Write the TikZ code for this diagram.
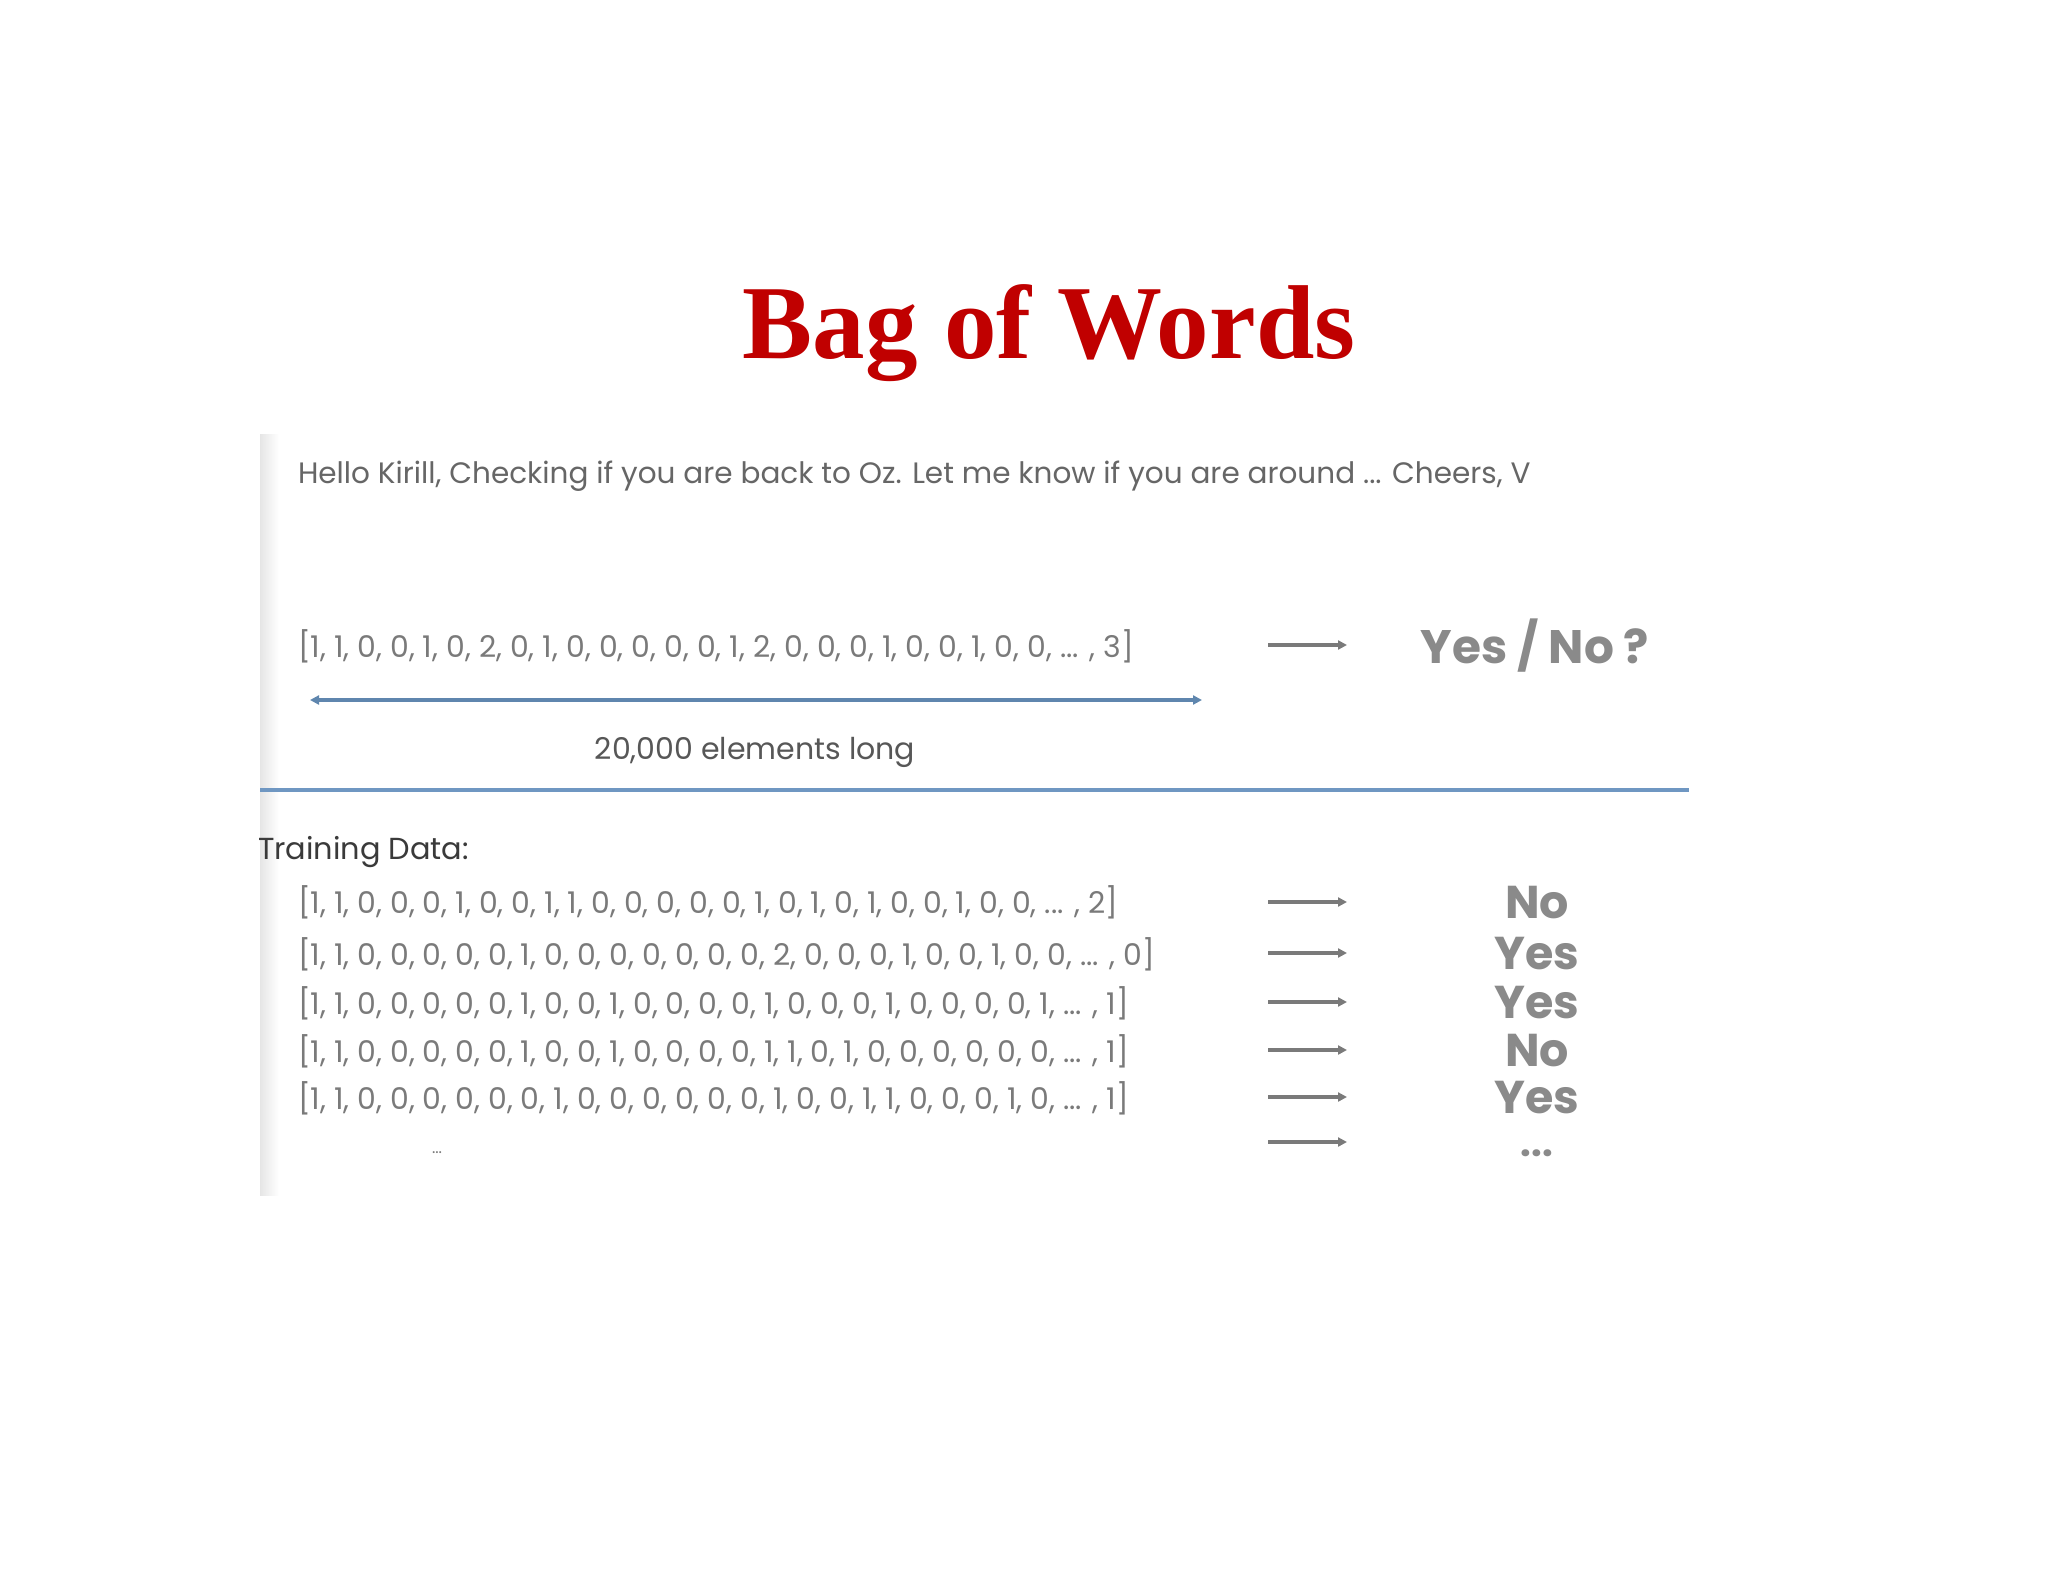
\documentclass[tikz,border=0pt]{standalone}
\usepackage{fontspec}
\setmainfont{Liberation Serif}
\newfontfamily\pop{Poppins}
\usetikzlibrary{arrows.meta}
\definecolor{titlered}{HTML}{C00000}
\definecolor{txtgray}{HTML}{666666}
\definecolor{vecgray}{HTML}{7A7A7A}
\definecolor{lblgray}{HTML}{8A8A8A}
\definecolor{dark}{HTML}{3A3A3A}
\definecolor{lineblue}{HTML}{6F97C2}
\definecolor{arrblue}{HTML}{5F86AE}
\definecolor{arrgray}{HTML}{7A7A7A}
\tikzset{
  plain/.style={inner sep=0pt, outer sep=0pt},
  titletext/.style={plain, text=titlered, font=\fontsize{105}{115}\selectfont\bfseries},
  msgtext/.style={plain, anchor=west, text=txtgray, font=\pop\fontsize{29.5}{34}\selectfont},
  vectext/.style={plain, anchor=west, text=vecgray, font=\pop\fontsize{29.9}{34}\selectfont},
  headtext/.style={plain, anchor=west, text=dark, font=\pop\fontsize{30.4}{34}\selectfont},
  lbltext/.style={plain, text=lblgray, font=\pop\bfseries\fontsize{46}{50}\selectfont},
  rarrow/.style={draw=arrgray, line width=3.5pt, -{Triangle[length=9pt,width=9pt]}},
  darrow/.style={draw=arrblue, line width=3.5pt, {Triangle[length=9pt,width=9pt]}-{Triangle[length=9pt,width=9pt]}},
}
\begin{document}
\begin{tikzpicture}[x=1pt,y=-1pt]
\useasboundingbox (0,0) rectangle (2048,1582);
\fill[white] (0,0) rectangle (2048,1582);
% left bar
\shade[left color=black!10, right color=white] (260,434) rectangle (279,1195);
% title
\node[titletext, anchor=base] (title) at (1049,358) {Bag of Words};
% message
\node[msgtext] (msg) at (298,476) {Hello Kirill, Checking if you are back to Oz. Let me know if you are around ... Cheers, V};
% query vector
\node[vectext] (qv) at (298,646) {[1, 1, 0, 0, 1, 0, 2, 0, 1, 0, 0, 0, 0, 0, 1, 2, 0, 0, 0, 1, 0, 0, 1, 0, 0, ... , 3]};
\coordinate (qa1) at (1268,645);
\coordinate (qa2) at (1347,645);
\draw[rarrow] (qa1) -- (qa2);
\node[lbltext, font=\pop\bfseries\fontsize{47}{52}\selectfont] (qlbl) at (1535,646) {Yes / No ?};
% double arrow
\coordinate (dl) at (310,700);
\coordinate (dr) at (1202,700);
\draw[darrow] (dl) -- (dr);
\node[plain, text=dark!85, font=\pop\fontsize{30}{34}\selectfont] (len) at (755,752) {20,000 elements long};
% separator
\coordinate (sl) at (260,790);
\coordinate (sr) at (1689,790);
\draw[lineblue, line width=4pt] (sl) -- (sr);
% training data
\node[headtext] (td) at (258,852) {Training Data:};
\node[vectext] (v1) at (298,902) {[1, 1, 0, 0, 0, 1, 0, 0, 1, 1, 0, 0, 0, 0, 0, 1, 0, 1, 0, 1, 0, 0, 1, 0, 0, ... , 2]};
\node[vectext] (v2) at (298,954) {[1, 1, 0, 0, 0, 0, 0, 1, 0, 0, 0, 0, 0, 0, 0, 2, 0, 0, 0, 1, 0, 0, 1, 0, 0, ... , 0]};
\node[vectext] (v3) at (298,1003) {[1, 1, 0, 0, 0, 0, 0, 1, 0, 0, 1, 0, 0, 0, 0, 1, 0, 0, 0, 1, 0, 0, 0, 0, 1, ... , 1]};
\node[vectext] (v4) at (298,1051) {[1, 1, 0, 0, 0, 0, 0, 1, 0, 0, 1, 0, 0, 0, 0, 1, 1, 0, 1, 0, 0, 0, 0, 0, 0, ... , 1]};
\node[vectext] (v5) at (298,1098) {[1, 1, 0, 0, 0, 0, 0, 0, 1, 0, 0, 0, 0, 0, 0, 1, 0, 0, 1, 1, 0, 0, 0, 1, 0, ... , 1]};
\node[vectext, font=\pop\fontsize{16}{18}\selectfont] (v6) at (432,1153) {...};
% arrows
\foreach \i/\y in {1/902,2/953,3/1002,4/1050,5/1097,6/1142}{
  \coordinate (s\i) at (1268,\y);
  \coordinate (e\i) at (1347,\y);
  \draw[rarrow] (s\i) -- (e\i);
}
% labels
\node[lbltext] (l1) at (1537,903) {No};
\node[lbltext] (l2) at (1537,954) {Yes};
\node[lbltext] (l3) at (1537,1003) {Yes};
\node[lbltext] (l4) at (1537,1051) {No};
\node[lbltext] (l5) at (1537,1098) {Yes};
\node[lbltext, font=\pop\bfseries\fontsize{38}{40}\selectfont] (l6) at (1537,1153) {...};
\end{tikzpicture}
\end{document}
